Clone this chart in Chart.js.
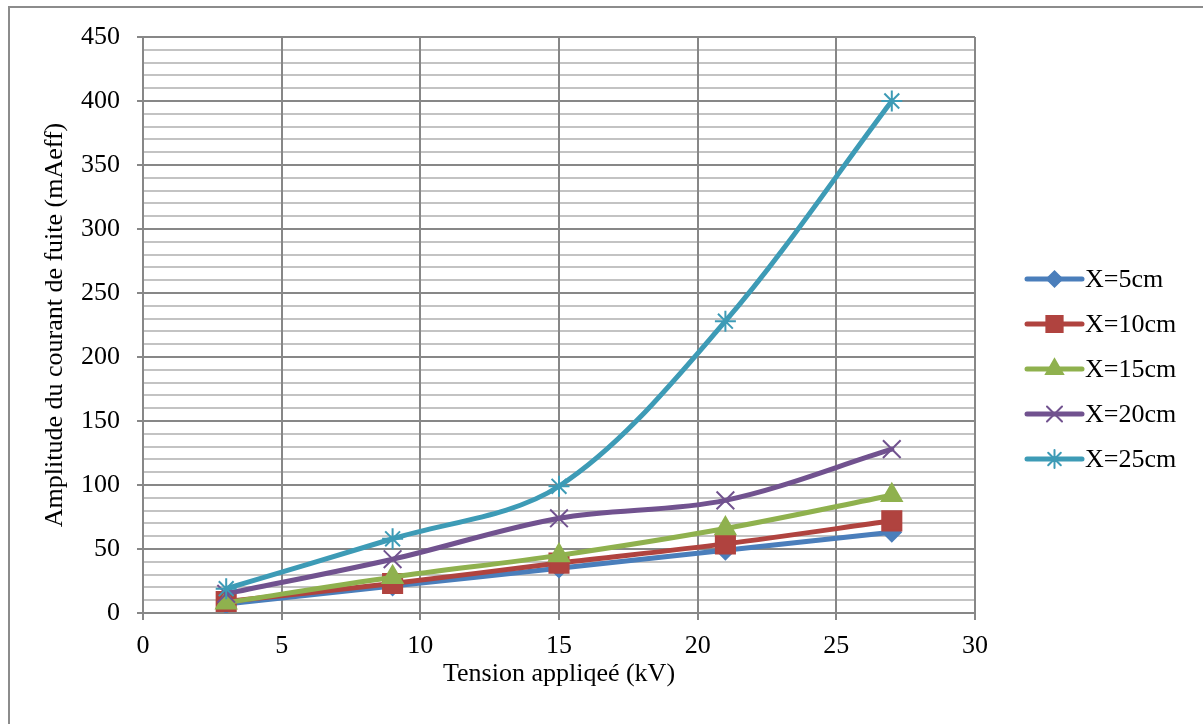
<!DOCTYPE html>
<html>
<head>
<meta charset="utf-8">
<script src="https://cdn.jsdelivr.net/npm/chart.js@4.4.1/dist/chart.umd.min.js"></script>
<style>
  html, body { margin: 0; padding: 0; background: #fff; }
  canvas { display: block; }
</style>
</head>
<body>
<canvas id="chart" width="1203" height="724"></canvas>
<script>
// Tension appliquée (kV)
const tensionKV = [3, 9, 15, 21, 27];

// Amplitude du courant de fuite (mAeff) pour chaque distance
const seriesNames = ["X=5cm", "X=10cm", "X=15cm", "X=20cm", "X=25cm"];
const courantX5 = [7, 21, 35, 49, 63];
const courantX10 = [9, 23, 39, 54, 72];
const courantX15 = [8, 28, 45, 66, 92];
const courantX20 = [15, 42, 74, 88, 128];
const courantX25 = [19, 58, 99, 228, 400];

const xMin = 0, xMax = 30, xStep = 5;
const yMin = 0, yMax = 450, yMajor = 50, yMinor = 10;

const FONT = { family: "'Liberation Serif', 'Times New Roman', serif", size: 26 };
const MAJOR = "#878787";
const MINOR = "#c3c3c3";

const styles = [
  { color: "#4a7ebb", point: "rectRot", radius: 9 },
  { color: "#b0433f", point: "rect", radius: 13.5 },
  { color: "#8fb14e", point: "triangle", radius: 11.5 },
  { color: "#71528f", point: "crossRot", radius: 12.5 },
  { color: "#3d9bb6", point: "star", radius: 10.5 }
];

const values = [courantX5, courantX10, courantX15, courantX20, courantX25];

const datasets = values.map((vals, i) => ({
  label: seriesNames[i],
  data: tensionKV.map((t, j) => ({ x: t, y: vals[j] })),
  borderColor: styles[i].color,
  backgroundColor: styles[i].color,
  borderWidth: 5,
  borderCapStyle: "round",
  borderJoinStyle: "round",
  tension: 0.33,
  pointStyle: styles[i].point,
  pointRadius: styles[i].radius,
  pointBorderWidth: 2,
  pointBackgroundColor: styles[i].color,
  pointBorderColor: styles[i].color,
  order: values.length - 1 - i
}));

// cadre du graphique (bord gauche et haut)
const framePlugin = {
  id: "frame",
  beforeDraw(chart) {
    const ctx = chart.ctx;
    ctx.save();
    ctx.strokeStyle = "#8c8c8c";
    ctx.lineWidth = 2;
    ctx.beginPath();
    ctx.moveTo(9, 7);
    ctx.lineTo(9, chart.height);
    ctx.moveTo(8, 7);
    ctx.lineTo(chart.width, 7);
    ctx.stroke();
    ctx.restore();
  }
};

// légende à droite : trait + marqueur, comme Excel
const sideLegend = {
  id: "sideLegend",
  afterDraw(chart) {
    const { ctx, chartArea } = chart;
    const x0 = chartArea.right + 52;
    const x1 = chartArea.right + 107;
    const xm = (x0 + x1) / 2;
    chart.data.datasets.forEach((ds, i) => {
      const y = chartArea.top + 242 + i * 45;
      ctx.save();
      ctx.strokeStyle = ds.borderColor;
      ctx.lineWidth = 5;
      ctx.lineCap = "round";
      ctx.beginPath();
      ctx.moveTo(x0, y);
      ctx.lineTo(x1, y);
      ctx.stroke();
      ctx.fillStyle = ds.pointBackgroundColor;
      ctx.strokeStyle = ds.pointBorderColor;
      ctx.lineWidth = 2;
      Chart.helpers.drawPoint(ctx, {
        pointStyle: ds.pointStyle,
        radius: ds.pointRadius * 0.85,
        rotation: 0,
        borderWidth: 2
      }, xm, y);
      ctx.fillStyle = "#000";
      ctx.font = FONT.size + "px " + FONT.family;
      ctx.textBaseline = "middle";
      ctx.textAlign = "left";
      ctx.fillText(ds.label, x1 + 3, y + 1);
      ctx.restore();
    });
  }
};

new Chart(document.getElementById("chart"), {
  type: "line",
  data: { datasets },
  options: {
    responsive: false,
    animation: false,
    devicePixelRatio: 1,
    layout: { padding: { left: 40, right: 228, top: 37, bottom: 34 } },
    plugins: {
      legend: { display: false },
      tooltip: { enabled: false }
    },
    scales: {
      x: {
        type: "linear",
        min: xMin,
        max: xMax,
        ticks: { stepSize: xStep, color: "#000", font: FONT, padding: 11 },
        grid: { color: MAJOR, lineWidth: 2, tickLength: 7, tickColor: MAJOR, z: -1 },
        border: { color: MAJOR, width: 2 },
        title: { display: true, text: "Tension appliqeé (kV)", color: "#000", font: FONT, padding: 0 },
        afterFit(scale) { scale.height = 77; }
      },
      y: {
        type: "linear",
        min: yMin,
        max: yMax,
        ticks: {
          stepSize: yMinor,
          autoSkip: false,
          color: "#000",
          font: FONT,
          padding: 17,
          callback: v => (v % yMajor === 0 ? v : "")
        },
        grid: {
          color: c => (c.tick && c.tick.value % yMajor === 0 ? MAJOR : MINOR),
          tickColor: c => (c.tick && c.tick.value % yMajor === 0 ? MAJOR : "rgba(0,0,0,0)"),
          lineWidth: 2,
          tickLength: 6,
          z: -2
        },
        border: { color: MAJOR, width: 2 },
        title: { display: true, text: "Amplitude du courant de fuite (mAeff)", color: "#000", font: FONT, padding: 0 },
        afterFit(scale) { scale.width = 103; }
      }
    }
  },
  plugins: [framePlugin, sideLegend]
});
</script>
</body>
</html>
